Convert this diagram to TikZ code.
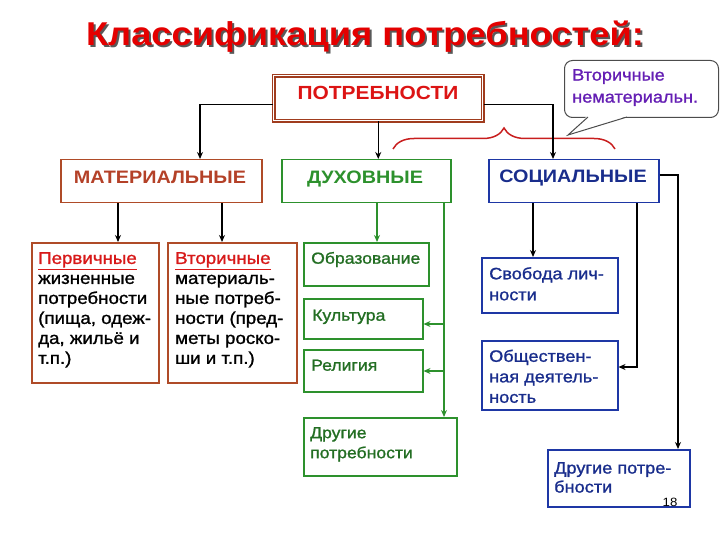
\documentclass[tikz,border=0pt]{standalone}
\usepackage{fontspec}
\setmainfont{Liberation Sans}[FakeStretch=1.1]
\newfontfamily\semibf{Liberation Sans}[FakeStretch=1.1,FakeBold=1.2]
\usetikzlibrary{arrows.meta,calc,decorations.pathreplacing}
\definecolor{titlered}{RGB}{228,0,0}
\definecolor{potrb}{RGB}{160,60,30}
\definecolor{potrt}{RGB}{220,20,20}
\definecolor{brownb}{RGB}{175,75,40}
\definecolor{matt}{RGB}{180,65,40}
\definecolor{redt}{RGB}{215,25,25}
\definecolor{greenb}{RGB}{45,145,45}
\definecolor{greent}{RGB}{35,110,35}
\definecolor{blueb}{RGB}{30,55,165}
\definecolor{bluet}{RGB}{25,45,140}
\definecolor{purp}{RGB}{100,30,180}
\definecolor{bracec}{RGB}{200,30,30}
\begin{document}
\begin{tikzpicture}[x=1pt,y=-1pt,
  bx/.style={draw,rectangle,anchor=north west,inner sep=0pt,line width=1.5pt},
  arr/.style={-{Stealth[length=7pt,width=6pt]},line width=1.5pt,draw=black},
  garr/.style={-{Stealth[length=7pt,width=6pt]},line width=1.5pt,draw=greenb},
  hdr/.style={anchor=base,inner sep=0pt,font=\bfseries\fontsize{18}{20}\selectfont},
  txt/.style={anchor=north west,inner sep=0pt,align=left,execute at begin node={\rule{0pt}{15pt}}},
  ttxt/.style={font=\bfseries\fontsize{33}{36}\selectfont,inner sep=0pt},
]
\useasboundingbox (0,0) rectangle (720,540);
% title
\node[ttxt,text=black!65] (titles) at (367,39) {Классификация потребностей:};
\node[ttxt,text=titlered] (title) at (365,37) {Классификация потребностей:};
% callout
\node[draw=black!70,line width=1pt,rounded corners=8pt,anchor=north west,inner sep=0pt,
  minimum width=154pt,minimum height=57pt,fill=white] (call) at (564,60) {};
\fill[white] (587,116) -- (568,135) -- (628,116) -- cycle;
\draw[black!70,line width=1pt] (588,117) -- (568,135) -- (627,117);
\node[txt,text=purp,font=\semibf\fontsize{16.5}{22}\selectfont] (callt) at (572,69) {Вторичные\\нематериальн.};
% top box
\node[bx,draw=potrb,double=white,double distance=1pt,line width=1.5pt,
  minimum width=209pt,minimum height=45pt] (potr) at (273,75) {};
\node[hdr,text=potrt,font=\bfseries\fontsize{19}{20}\selectfont] (potrt) at (378,100) {ПОТРЕБНОСТИ};
% brace
\draw[bracec,line width=1.5pt,decorate,decoration={brace,amplitude=21pt}] (393,149) -- (615,149);
% level 2
\node[bx,draw=brownb,minimum width=201pt,minimum height=43pt] (mat) at (60,159) {};
\node[hdr,text=matt] (matt) at (160,183.5) {МАТЕРИАЛЬНЫЕ};
\node[bx,draw=greenb,minimum width=169pt,minimum height=43pt] (duh) at (281,159) {};
\node[hdr,text=greenb] (duht) at (365,183.5) {ДУХОВНЫЕ};
\node[bx,draw=blueb,minimum width=170pt,minimum height=43pt] (soc) at (488,159) {};
\node[hdr,text=bluet] (soct) at (573,183) {СОЦИАЛЬНЫЕ};
% material children
\node[bx,draw=brownb,minimum width=127pt,minimum height=140pt] (perv) at (31,242) {};
\node[txt,font=\semibf\fontsize{17}{20}\selectfont] (pervt) at (38,252)
  {\textcolor{redt}{\underline{Первичные}}\\жизненные\\потребности\\(пища, одеж-\\да, жильё и\\т.п.)};
\node[bx,draw=brownb,minimum width=129pt,minimum height=140pt] (vtor) at (167,242) {};
\node[txt,font=\semibf\fontsize{17}{20}\selectfont] (vtort) at (175,252)
  {\textcolor{redt}{\underline{Вторичные}}\\материаль-\\ные потреб-\\ности (пред-\\меты роско-\\ши и т.п.)};
% spiritual children
\node[bx,draw=greenb,minimum width=125pt,minimum height=43pt] (obr) at (303,242) {};
\node[txt,text=greent,font=\semibf\fontsize{16}{20}\selectfont] (obrt) at (311,248.5) {Образование};
\node[bx,draw=greenb,minimum width=119pt,minimum height=40pt] (kult) at (303,298) {};
\node[txt,text=greent,font=\semibf\fontsize{16}{20}\selectfont] (kultt) at (312,305.5) {Культура};
\node[bx,draw=greenb,minimum width=119pt,minimum height=42pt] (rel) at (303,349) {};
\node[txt,text=greent,font=\semibf\fontsize{16}{20}\selectfont] (relt) at (311,355.5) {Религия};
\node[bx,draw=greenb,minimum width=153pt,minimum height=58pt] (drug) at (303,417) {};
\node[txt,text=greent,font=\semibf\fontsize{16}{20}\selectfont] (drugt) at (310,427) {Другие\\потребности};
% social children
\node[bx,draw=blueb,minimum width=136pt,minimum height=55pt] (svob) at (481,257) {};
\node[txt,text=bluet,font=\semibf\fontsize{16.5}{21}\selectfont] (svobt) at (489,267) {Свобода лич-\\ности};
\node[bx,draw=blueb,minimum width=136pt,minimum height=69pt] (obsch) at (481,340) {};
\node[txt,text=bluet,font=\semibf\fontsize{16.5}{20.5}\selectfont] (obscht) at (489,349.5) {Обществен-\\ная деятель-\\ность};
\node[bx,draw=blueb,minimum width=142pt,minimum height=57pt] (drug2) at (547,449) {};
\node[txt,text=bluet,font=\semibf\fontsize{16.5}{19}\selectfont] (drug2t) at (554,462) {Другие потре-\\бности};
\node[inner sep=0pt,font=\fontsize{12}{12}\selectfont] (pg) at (670,502) {18};
% connectors from top
\coordinate (mIn) at (200,159);
\coordinate (sIn) at (553,159);
\draw[arr] ($(potr.west)+(0,6.5)$) -| (mIn);
\draw[arr] ($(potr.east)+(0,6.5)$) -| (sIn);
\draw[arr] (potr.south) -- (potr.south |- duh.north);
% material
\coordinate (m1) at (118,242);
\coordinate (m2) at (222,242);
\draw[arr] (m1 |- mat.south) -- (m1);
\draw[arr] (m2 |- mat.south) -- (m2);
% spiritual
\coordinate (g1) at (377,242);
\coordinate (gx) at (444,417);
\coordinate (k1) at (444,324);
\coordinate (r1) at (444,371);
\draw[garr] (g1 |- duh.south) -- (g1);
\draw[garr] (gx |- duh.south) -- (gx);
\draw[garr] (k1) -- (k1 -| kult.east);
\draw[garr] (r1) -- (r1 -| rel.east);
% social
\coordinate (b1) at (533,257);
\coordinate (b2) at (637,367);
\coordinate (b3) at (678,449);
\draw[arr] (b1 |- soc.south) -- (b1);
\draw[arr] (b2 |- soc.south) -- (b2) -- (b2 -| obsch.east);
\draw[arr,line width=2.2pt] ($(soc.east)+(0,-6.5)$) -| (b3);
\end{tikzpicture}
\end{document}
